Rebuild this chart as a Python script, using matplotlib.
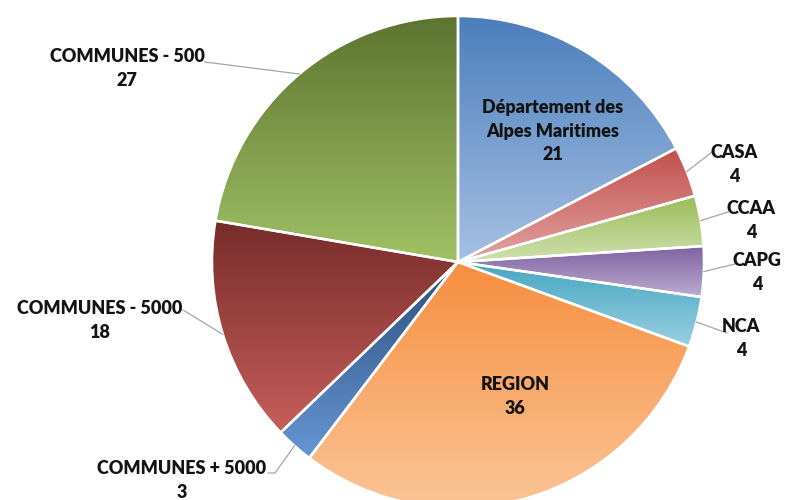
import numpy as np
import matplotlib
matplotlib.use('Agg')
from matplotlib import pyplot as plt
from matplotlib.colors import LinearSegmentedColormap

# Data
labels = ['Département des\nAlpes Maritimes', 'CASA', 'CCAA', 'CAPG', 'NCA',
          'REGION', 'COMMUNES + 5000', 'COMMUNES - 5000', 'COMMUNES - 500']
values = [21, 4, 4, 4, 4, 36, 3, 18, 27]

# gradient colours per slice (top, bottom)
top_colors = ['#4A7EBB', '#C0504D', '#9BBB59', '#7F62A1', '#45A5C1',
              '#F68E3F', '#2B4F7E', '#772C2A', '#5C7430']
bottom_colors = ['#A7C0E3', '#E3A3A1', '#CFE1AD', '#BBACD1', '#98D0E0',
                 '#FBC597', '#6696D3', '#C65F5C', '#A0C165']

# layout (pixel coords, y from top)
W, H = 789, 500
cx, cy, R = 458, 262, 246
label_pos = [(553, 131), (734, 164), (751, 220), (757, 273), (741, 338),
             (515, 397), (182, 480), (100, 320), (127, 68)]
# leader line end points, None = label inside slice
leader_end = [None, [(712, 152)], [(728, 212)], [(735, 264)], [(727, 333)],
              None, [(275, 473), (268, 473)], [(183, 310)], [(205, 62)]]

fig = plt.figure(figsize=(W / 100, H / 100), dpi=100)
ax = fig.add_axes([0, 0, 1, 1])

wedges, _ = ax.pie(values, center=(cx, H - cy), radius=R, startangle=90,
                   counterclock=False,
                   wedgeprops=dict(edgecolor='white', linewidth=1.8, facecolor='none'))

grad = np.linspace(0, 1, 256).reshape(-1, 1)
for w, c_top, c_bot in zip(wedges, top_colors, bottom_colors):
    ext = w.get_path().get_extents()
    cmap = LinearSegmentedColormap.from_list('g', [c_bot, c_top])
    im = ax.imshow(grad, cmap=cmap, origin='lower', aspect='auto',
                   extent=[ext.x0, ext.x1, ext.y0, ext.y1], zorder=1,
                   interpolation='bilinear')
    im.set_clip_path(w)
    w.set_zorder(2)

# labels and leader lines
total = sum(values)
cum = 0
for lab, v, pos, ends in zip(labels, values, label_pos, leader_end):
    mid = (cum + v / 2) / total * 2 * np.pi
    cum += v
    ax.text(pos[0], H - pos[1], f'{lab}\n{v}', ha='center', va='center',
            fontsize=13, fontweight='heavy', family='Lato', color='#141414',
            linespacing=1.5, zorder=4)
    if ends is None:
        continue
    xs = [cx + R * np.sin(mid)] + [p[0] for p in ends]
    ys = [H - (cy - R * np.cos(mid))] + [H - p[1] for p in ends]
    ax.plot(xs, ys, color='#A6A6A6', lw=0.9, zorder=3)

ax.set_xlim(0, W)
ax.set_ylim(0, H)
ax.set_aspect('equal')
ax.axis('off')

fig.savefig('out.png', dpi=100, facecolor='white')
